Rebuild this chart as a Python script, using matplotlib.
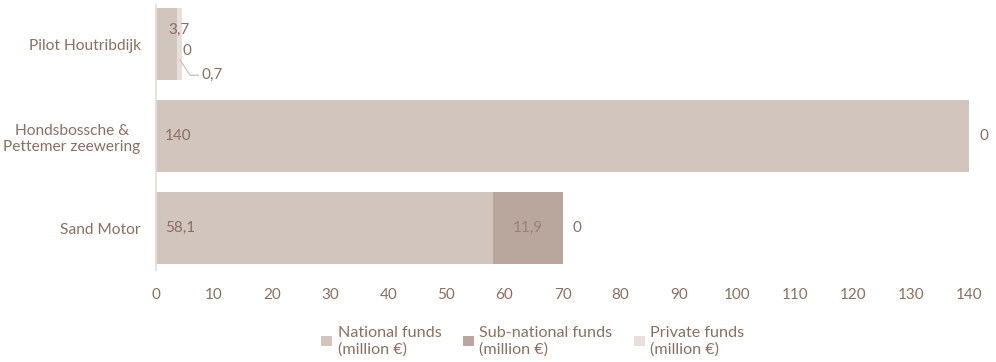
import matplotlib

matplotlib.use("Agg")
import matplotlib.pyplot as plt  # noqa: E402
import numpy as np  # noqa: E402
from matplotlib.patches import Patch  # noqa: E402

# projects listed bottom-to-top
projects = ["Sand Motor", "Hondsbossche &\nPettemer zeewering", "Pilot Houtribdijk"]
national = [58.1, 140.0, 3.7]
sub_national = [11.9, 0.0, 0.0]
private = [0.0, 0.0, 0.7]
series_names = ["National funds\n(million €)", "Sub-national funds\n(million €)",
                "Private funds\n(million €)"]

TEXT = "#8a6f60"
COLORS = ["#d1c5be", "#b9a69c", "#e6dfdb"]

plt.rcParams["font.family"] = ["Lato", "DejaVu Sans"]

fig = plt.figure(figsize=(9.96, 3.62), dpi=100)
ax = fig.add_axes([0.1566, 0.254, 0.8164, 0.732])

y = np.arange(len(projects))
h = 0.79
nat = np.array(national)
sub = np.array(sub_national)
pri = np.array(private)
ax.barh(y, nat, height=h, color=COLORS[0])
ax.barh(y, sub, left=nat, height=h, color=COLORS[1])
ax.barh(y, pri, left=nat + sub, height=h, color=COLORS[2])

ax.set_xlim(0, 140)
ax.set_ylim(-0.457, 2.424)
ax.set_xticks(np.arange(0, 141, 10))
ax.set_yticks(y)
ax.set_yticklabels(projects, ha="right", multialignment="center")
ax.tick_params(axis="both", length=0, colors=TEXT)
ax.tick_params(axis="y", pad=11, labelsize=11.2)
ax.tick_params(axis="x", pad=13, labelsize=11)
for s in ["top", "right", "bottom"]:
    ax.spines[s].set_visible(False)
ax.spines["left"].set_color("#e2dcd8")
ax.spines["left"].set_linewidth(1.2)


def fmt(v):
    return f"{v:g}".replace(".", ",")


fs = 11
# Sand Motor
ax.text(1.6, 0, fmt(national[0]), va="center", ha="left", color=TEXT, fontsize=fs)
ax.text(national[0] + sub_national[0] / 2, 0, fmt(sub_national[0]), va="center",
        ha="center", color="#9a8276", fontsize=fs)
ax.text(nat[0] + sub[0] + pri[0] + 1.8, 0, fmt(private[0]), va="center", ha="left",
        color=TEXT, fontsize=fs)
# Hondsbossche
ax.text(1.6, 1, fmt(national[1]), va="center", ha="left", color=TEXT, fontsize=fs)
ax.text(nat[1] + sub[1] + pri[1] + 1.8, 1, fmt(private[1]), va="center", ha="left",
        color=TEXT, fontsize=fs)
# Pilot Houtribdijk: small values with a leader line
ax.text(national[2] + 0.3, 2.15, fmt(national[2]), va="center", ha="center",
        color=TEXT, fontsize=fs)
ax.text(nat[2] + 0.9, 1.92, fmt(sub_national[2]), va="center", ha="left",
        color=TEXT, fontsize=fs)
end = nat[2] + sub[2] + pri[2]
ax.plot([end - 0.3, end + 1.5, end + 2.9], [1.83, 1.66, 1.66], color="#cbbfb8", lw=0.9)
ax.text(end + 3.5, 1.66, fmt(private[2]), va="center", ha="left", color=TEXT, fontsize=fs)

handles = [Patch(facecolor=c, edgecolor="none") for c in COLORS]
fig.legend(handles, series_names, loc="lower center", bbox_to_anchor=(0.535, -0.025),
           ncol=3, frameon=False, fontsize=11.6, labelcolor=TEXT, handlelength=0.65,
           handleheight=0.65, handletextpad=0.35, columnspacing=1.35)

fig.savefig("out.png")
